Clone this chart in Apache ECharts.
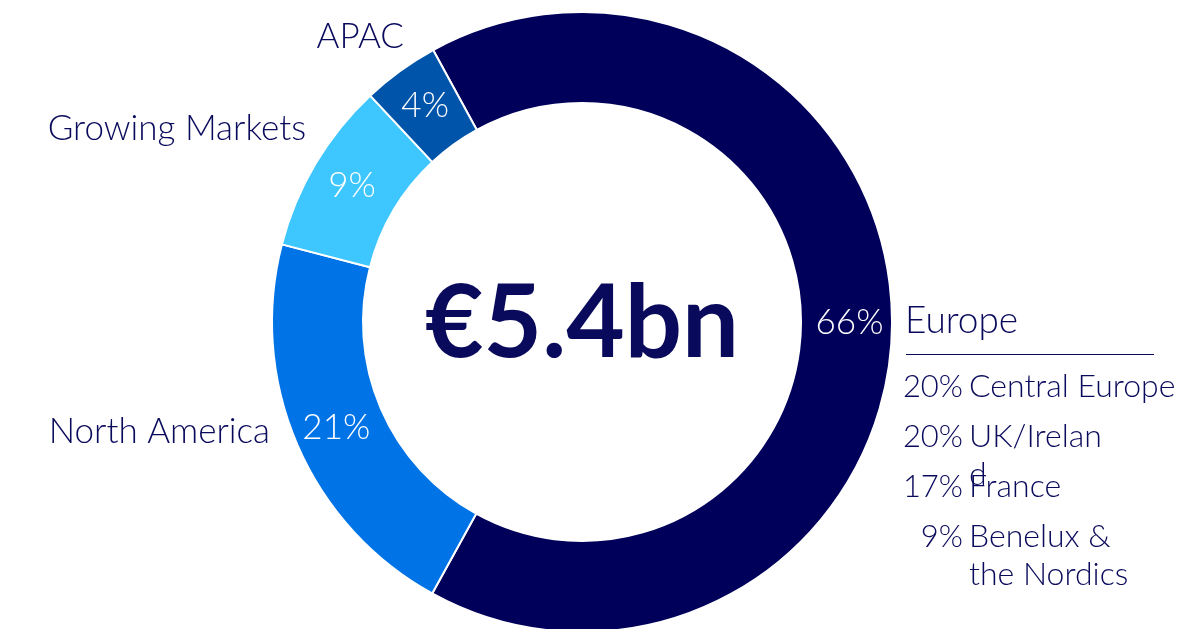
<!DOCTYPE html>
<html>
<head>
<meta charset="utf-8">
<script src="https://cdn.jsdelivr.net/npm/echarts@6/dist/echarts.min.js"></script>
<style>
html,body{margin:0;padding:0;background:#fff;}
#main{width:1194px;height:629px;}
</style>
</head>
<body>
<div id="main"></div>
<script>
// 区域及占比
var regions = ['Europe', 'North America', 'Growing Markets', 'APAC'];
var shares = [66, 21, 9, 4];
var colors = ['#00005b', '#0073e6', '#3ec6ff', '#0055aa'];
var totalLabel = '€5.4bn';

// 欧洲细分
var subRegions = ['Central Europe', 'UK/Ireland', 'France', 'Benelux &\nthe Nordics'];
var subShares = [20, 20, 17, 9];

var navy = '#0a0a5c';
var fontFamily = 'Lato, "Noto Sans", sans-serif';

// 外侧标签位置 (x, y, align, fontSize)
var outerPos = [
	[905, 321, 'left', 37],
	[270, 432, 'right', 35],
	[306, 129, 'right', 35],
	[404, 37, 'right', 35]
];
var subRowY = [387, 437, 487, 537];
var subWrap = [null, 140, null, null];

var pieData = [];
var labelData = [];
for (var i = 0; i < regions.length; i++) {
	pieData.push({name: regions[i], value: shares[i], itemStyle: {color: colors[i]}});
	labelData.push({
		name: regions[i], value: shares[i],
		label: {fontSize: outerPos[i][3]}
	});
}

var graphics = [{
	type: 'text',
	x: 582, y: 324,
	style: {
		text: totalLabel,
		fill: navy,
		font: 'bold 101px ' + fontFamily,
		textAlign: 'center',
		textVerticalAlign: 'middle'
	}
}, {
	type: 'line',
	shape: {x1: 906, y1: 354.5, x2: 1154, y2: 354.5},
	style: {stroke: navy, lineWidth: 1}
}];

for (var j = 0; j < subRegions.length; j++) {
	graphics.push({
		type: 'text',
		x: 963, y: subRowY[j],
		style: {
			text: subShares[j] + '%',
			fill: navy,
			font: '300 31px ' + fontFamily,
			textAlign: 'right',
			textVerticalAlign: 'middle'
		}
	});
	var st = {
		text: subRegions[j],
		fill: navy,
		font: '300 32px ' + fontFamily,
		lineHeight: 38,
		textAlign: 'left',
		textVerticalAlign: 'top'
	};
	if (subWrap[j]) {
		st.width = subWrap[j];
		st.overflow = 'breakAll';
	}
	graphics.push({type: 'text', x: 969, y: subRowY[j] - 19, style: st});
}

var myChart = echarts.init(document.getElementById('main'));
var option = {
	animation: false,
	graphic: graphics,
	series: [{
		name: '区域',
		type: 'pie',
		center: [582, 322],
		radius: [219, 310],
		startAngle: 118.7,
		clockwise: true,
		data: pieData,
		itemStyle: {borderColor: '#fff', borderWidth: 2},
		label: {
			position: 'inside',
			formatter: '{c}%',
			color: '#fff',
			fontFamily: fontFamily,
			fontWeight: 300,
			fontSize: 35
		},
		labelLine: {show: false},
		emphasis: {disabled: true}
	}, {
		name: '标签',
		type: 'pie',
		silent: true,
		center: [582, 322],
		radius: [219, 310],
		startAngle: 118.7,
		clockwise: true,
		data: labelData,
		itemStyle: {color: 'rgba(0,0,0,0)'},
		label: {
			position: 'outside',
			formatter: '{b}',
			color: navy,
			fontFamily: fontFamily,
			fontWeight: 300,
			fontSize: 35,
			overflow: 'none',
			width: 400
		},
		labelLine: {show: false},
		labelLayout: function (params) {
			var p = outerPos[params.dataIndex];
			return {x: p[0], y: p[1], align: p[2], verticalAlign: 'middle'};
		}
	}]
};
myChart.setOption(option);
</script>
</body>
</html>
